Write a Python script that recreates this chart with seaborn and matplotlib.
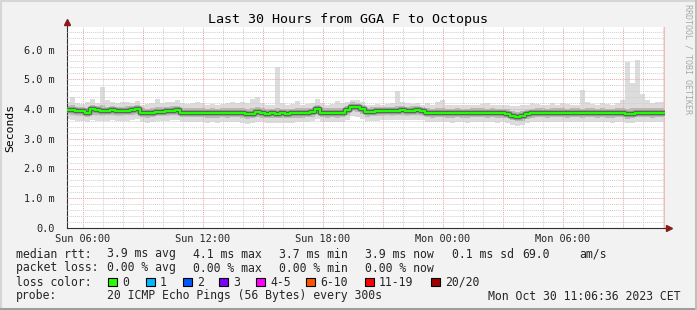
import numpy as np
import matplotlib
matplotlib.use("Agg")
import matplotlib.pyplot as plt
import seaborn as sns
from matplotlib.lines import Line2D
from matplotlib.patches import Rectangle
from matplotlib.ticker import MultipleLocator, FixedLocator, FixedFormatter

# ---------------- data (ms, 15-minute steps from Sun 05:06) ----------------
start_hour = 5.1
step_hours = 0.25

median_ms = [3.97, 3.96, 3.93, 3.92, 3.88, 4.00, 3.95, 3.93, 3.94, 3.96,
             3.93, 3.92, 3.94, 3.96, 4.00, 3.86, 3.85, 3.87, 3.90, 3.91,
             3.93, 3.94, 3.96, 3.88, 3.87, 3.87, 3.88, 3.87, 3.86, 3.86,
             3.85, 3.87, 3.86, 3.88, 3.87, 3.85, 3.82, 3.84, 3.90, 3.86,
             3.84, 3.85, 3.84, 3.85, 3.84, 3.85, 3.86, 3.86, 3.87, 3.90,
             4.00, 3.88, 3.86, 3.87, 3.86, 3.87, 3.95, 4.08, 4.07, 4.00,
             3.90, 3.91, 3.92, 3.93, 3.94, 3.93, 3.94, 3.95, 3.93, 3.94,
             3.95, 3.93, 3.87, 3.86, 3.88, 3.87, 3.86, 3.85, 3.87, 3.86,
             3.85, 3.88, 3.87, 3.88, 3.86, 3.87, 3.85, 3.86, 3.84, 3.78,
             3.74, 3.76, 3.83, 3.86, 3.87, 3.88, 3.86, 3.87, 3.88, 3.87,
             3.86, 3.88, 3.87, 3.86, 3.87, 3.88, 3.86, 3.87, 3.86, 3.85,
             3.87, 3.86, 3.82, 3.84, 3.87, 3.88, 3.87, 3.86, 3.88, 3.87]

max_ms = [4.25, 4.42, 4.20, 4.18, 4.22, 4.33, 4.20, 4.75, 4.30, 4.22,
          4.20, 4.25, 4.22, 4.20, 4.28, 4.15, 4.18, 4.20, 4.33, 4.20,
          4.22, 4.25, 4.30, 4.20, 4.18, 4.20, 4.22, 4.20, 4.15, 4.18,
          4.15, 4.17, 4.20, 4.22, 4.20, 4.25, 4.20, 4.35, 4.40, 4.20,
          4.15, 4.15, 5.42, 4.20, 4.15, 4.18, 4.27, 4.15, 4.18, 4.20,
          4.33, 4.20, 4.15, 4.18, 4.27, 4.20, 4.22, 4.30, 4.30, 4.25,
          4.15, 4.15, 4.18, 4.15, 4.17, 4.20, 4.62, 4.22, 4.20, 4.18,
          4.20, 4.15, 4.20, 4.15, 4.25, 4.30, 4.15, 4.12, 4.15, 4.12,
          4.15, 4.15, 4.12, 4.18, 4.20, 4.15, 4.12, 4.15, 4.13, 4.10,
          4.10, 4.12, 4.15, 4.20, 4.18, 4.15, 4.15, 4.20, 4.15, 4.20,
          4.18, 4.15, 4.15, 4.64, 4.23, 4.18, 4.15, 4.20, 4.18, 4.15,
          4.20, 4.30, 5.58, 4.86, 5.65, 4.50, 4.30, 4.20, 4.22, 4.25]

upper_ms = [4.10, 4.12, 4.08, 4.07, 4.05, 4.12, 4.10, 4.12, 4.08, 4.10,
            4.08, 4.07, 4.10, 4.10, 4.14, 4.02, 4.00, 4.03, 4.06, 4.06,
            4.08, 4.10, 4.11, 4.03, 4.02, 4.03, 4.04, 4.02, 4.01, 4.02,
            4.00, 4.03, 4.02, 4.04, 4.03, 4.02, 4.00, 4.02, 4.06, 4.02,
            4.00, 4.01, 4.05, 4.01, 4.00, 4.01, 4.03, 4.02, 4.02, 4.05,
            4.14, 4.04, 4.02, 4.03, 4.02, 4.03, 4.10, 4.22, 4.20, 4.14,
            4.05, 4.06, 4.07, 4.08, 4.08, 4.08, 4.10, 4.10, 4.08, 4.09,
            4.10, 4.08, 4.02, 4.01, 4.04, 4.02, 4.00, 4.00, 4.02, 4.01,
            4.00, 4.03, 4.02, 4.03, 4.01, 4.02, 4.00, 4.01, 3.99, 3.94,
            3.90, 3.92, 3.98, 4.01, 4.02, 4.03, 4.01, 4.02, 4.03, 4.02,
            4.01, 4.03, 4.02, 4.01, 4.02, 4.03, 4.01, 4.02, 4.01, 4.00,
            4.02, 4.03, 4.00, 4.02, 4.03, 4.04, 4.03, 4.02, 4.04, 4.03]

lower_ms = [3.82, 3.80, 3.78, 3.77, 3.73, 3.80, 3.79, 3.78, 3.79, 3.80,
            3.78, 3.77, 3.79, 3.80, 3.84, 3.72, 3.70, 3.72, 3.75, 3.76,
            3.77, 3.79, 3.80, 3.73, 3.72, 3.72, 3.73, 3.72, 3.71, 3.71,
            3.70, 3.72, 3.71, 3.73, 3.72, 3.70, 3.66, 3.69, 3.74, 3.71,
            3.69, 3.70, 3.69, 3.70, 3.69, 3.70, 3.71, 3.71, 3.72, 3.74,
            3.83, 3.73, 3.71, 3.72, 3.71, 3.72, 3.79, 3.92, 3.90, 3.83,
            3.74, 3.76, 3.77, 3.78, 3.79, 3.78, 3.79, 3.80, 3.78, 3.79,
            3.80, 3.78, 3.72, 3.71, 3.73, 3.72, 3.71, 3.70, 3.72, 3.71,
            3.70, 3.73, 3.72, 3.73, 3.71, 3.72, 3.70, 3.71, 3.69, 3.62,
            3.58, 3.61, 3.68, 3.71, 3.72, 3.73, 3.71, 3.72, 3.73, 3.72,
            3.71, 3.73, 3.72, 3.71, 3.72, 3.73, 3.71, 3.72, 3.71, 3.70,
            3.72, 3.73, 3.67, 3.69, 3.72, 3.73, 3.72, 3.71, 3.73, 3.72]

min_ms = [3.66, 3.62, 3.60, 3.58, 3.57, 3.63, 3.60, 3.58, 3.60, 3.62,
          3.60, 3.58, 3.60, 3.62, 3.66, 3.56, 3.54, 3.56, 3.60, 3.60,
          3.60, 3.62, 3.63, 3.56, 3.55, 3.56, 3.57, 3.55, 3.54, 3.55,
          3.54, 3.56, 3.55, 3.56, 3.55, 3.53, 3.50, 3.53, 3.57, 3.55,
          3.53, 3.54, 3.53, 3.54, 3.53, 3.54, 3.55, 3.55, 3.56, 3.58,
          3.66, 3.57, 3.55, 3.56, 3.55, 3.56, 3.62, 3.76, 3.74, 3.66,
          3.58, 3.60, 3.61, 3.62, 3.63, 3.62, 3.63, 3.64, 3.62, 3.63,
          3.64, 3.62, 3.56, 3.55, 3.57, 3.56, 3.55, 3.54, 3.56, 3.55,
          3.54, 3.57, 3.56, 3.57, 3.55, 3.56, 3.54, 3.55, 3.53, 3.47,
          3.44, 3.46, 3.52, 3.55, 3.56, 3.57, 3.55, 3.56, 3.57, 3.56,
          3.55, 3.57, 3.56, 3.55, 3.56, 3.57, 3.55, 3.56, 3.55, 3.54,
          3.56, 3.57, 3.52, 3.54, 3.56, 3.57, 3.56, 3.55, 3.57, 3.56]

x_tick_hours = [6, 12, 18, 24, 30]
x_tick_labels = ["Sun 06:00", "Sun 12:00", "Sun 18:00", "Mon 00:00", "Mon 06:00"]
y_ticks = [0, 1, 2, 3, 4, 5, 6]
y_tick_labels = ["0.0", "1.0 m", "2.0 m", "3.0 m", "4.0 m", "5.0 m", "6.0 m"]

title = "Last 30 Hours from GGA F to Octopus"
rtt_row = [("median rtt:", 16), ("3.9 ms avg", 107), ("4.1 ms max", 193),
           ("3.7 ms min", 279), ("3.9 ms now", 365), ("0.1 ms sd", 452),
           ("69.0", 522), ("am/s", 579)]
loss_row = [("packet loss:", 16), ("0.00 % avg", 107), ("0.00 % max", 193),
            ("0.00 % min", 279), ("0.00 % now", 365)]
loss_labels = ["0", "1", "2", "3", "4-5", "6-10", "11-19", "20/20"]
loss_colors = ["#26ff00", "#00b8ff", "#0059ff", "#7e00ff", "#ff00ff",
               "#ff5500", "#ff0000", "#a10000"]
loss_box_x = [108, 146, 183, 219, 256, 306, 365, 431]
probe_text = "20 ICMP Echo Pings (56 Bytes) every 300s"
date_text = "Mon Oct 30 11:06:36 2023 CET"

# ---------------- figure ----------------
sns.set_style("white")
plt.rcParams["font.family"] = ["DejaVu Sans Mono", "DejaVu Sans"]

W, H = 697, 310
fig = plt.figure(figsize=(W / 100, H / 100), dpi=100, facecolor="#F2F2F2")


def fx(px):
    return px / W


def fy(py):
    return 1 - py / H


ax_left, ax_right, ax_top, ax_bottom = 66.5, 665.0, 27.0, 228.0
ax = fig.add_axes([fx(ax_left), fy(ax_bottom), (ax_right - ax_left) / W,
                   (ax_bottom - ax_top) / H])
ax.set_facecolor("white")

n = len(median_ms)
t = start_hour + step_hours * np.arange(n + 1)


def ext(a):
    return np.append(np.asarray(a, float), a[-1])


ax.fill_between(t, ext(min_ms), ext(max_ms), step="post", color="#DCDCDC",
                lw=0, zorder=1)
ax.fill_between(t, ext(lower_ms), ext(upper_ms), step="post", color="#B8B8B8",
                lw=0, zorder=1.1)

sns.lineplot(x=t, y=ext(median_ms), drawstyle="steps-post", color="#8C8C8C",
             lw=4.0, ax=ax, zorder=3)
sns.lineplot(x=t, y=ext(median_ms), drawstyle="steps-post", color="#4A4A4A",
             lw=2.6, ax=ax, zorder=3.1)
sns.lineplot(x=t, y=ext(median_ms), drawstyle="steps-post", color="#1EFF00",
             lw=1.7, ax=ax, zorder=3.2)

xmax = start_hour + step_hours * n
ax.set_xlim(xmax - (ax_right - ax_left) / 20.0, xmax)
ax.set_ylim(0, (ax_bottom - ax_top) / 29.75)

ax.xaxis.set_minor_locator(MultipleLocator(1))
ax.yaxis.set_major_locator(FixedLocator(y_ticks))
ax.yaxis.set_major_formatter(FixedFormatter(y_tick_labels))
ax.yaxis.set_minor_locator(MultipleLocator(0.2))
maj = np.arange(6, 36, 3)
ax.set_xticks(maj)
ax.set_xticklabels([x_tick_labels[x_tick_hours.index(h)] if h in x_tick_hours else ""
                    for h in maj])

ax.set_axisbelow(False)
ax.grid(True, which="minor", color="#CFCFCF", lw=0.7, ls=(0, (1, 1)), zorder=2)
ax.grid(True, which="major", color="#E9A3A3", lw=0.7, ls=(0, (1, 1)), zorder=2.05)

ax.tick_params(axis="both", which="major", labelsize=7.4, length=2.5,
               width=0.7, color="#E09090")
ax.tick_params(axis="y", which="major", pad=6)
ax.tick_params(axis="x", which="major", pad=1.5)
ax.tick_params(axis="both", which="minor", length=1.5, width=0.6, color="#B0B0B0")

for s in ["top", "right"]:
    ax.spines[s].set_visible(False)
for s in ["left", "bottom"]:
    ax.spines[s].set_color("#303030")
    ax.spines[s].set_linewidth(0.8)

ax.axvline(xmax, color="#F7B8B8", lw=1.6, zorder=2.5)
ax.set_xlabel("")
ax.set_ylabel("")

# axis extensions & arrows
fig.add_artist(Line2D([fx(ax_left), fx(ax_left)], [fy(ax_top), fy(23)],
                      color="#303030", lw=0.8))
fig.add_artist(Line2D([fx(ax_right), fx(668)], [fy(ax_bottom), fy(ax_bottom)],
                      color="#303030", lw=0.8))
fig.add_artist(Line2D([fx(ax_left)], [fy(22)], marker="^", markersize=5,
                      color="#8B1A1A", lw=0))
fig.add_artist(Line2D([fx(669)], [fy(ax_bottom)], marker=">", markersize=5,
                      color="#8B1A1A", lw=0))

# texts
fig.text(fx(348), fy(19), title, ha="center", va="center", fontsize=9.6,
         color="black")
fig.text(fx(10), fy(128), "Seconds", rotation=90, ha="center", va="center",
         fontsize=8.2, color="black")
fig.text(fx(688), fy(4), "RRDTOOL / TOBI OETIKER", rotation=-90, ha="center",
         va="top", fontsize=6.0, color="#A8A8A8")

fs = 8.3
for txt, x in rtt_row:
    fig.text(fx(x), fy(254), txt, ha="left", va="center", fontsize=fs)
for txt, x in loss_row:
    fig.text(fx(x), fy(268), txt, ha="left", va="center", fontsize=fs)
fig.text(fx(16), fy(282), "loss color:", ha="left", va="center", fontsize=fs)
for lab, col, x in zip(loss_labels, loss_colors, loss_box_x):
    fig.add_artist(Rectangle((fx(x), fy(286)), 8.5 / W, 8.5 / H, facecolor=col,
                             edgecolor="black", lw=0.8,
                             transform=fig.transFigure))
    fig.text(fx(x + 14), fy(282), lab, ha="left", va="center", fontsize=fs)
fig.text(fx(16), fy(296), "probe:", ha="left", va="center", fontsize=fs)
fig.text(fx(107), fy(296), probe_text, ha="left", va="center", fontsize=fs)
fig.text(fx(681), fy(296), date_text, ha="right", va="center", fontsize=fs)

# frame
fig.add_artist(Line2D([0, 1], [fy(0.5), fy(0.5)], color="#D6D6D6", lw=1.5))
fig.add_artist(Line2D([fx(0.5), fx(0.5)], [0, 1], color="#D6D6D6", lw=1.5))
fig.add_artist(Line2D([0, 1], [fy(309), fy(309)], color="#9E9E9E", lw=2.2))
fig.add_artist(Line2D([fx(696), fx(696)], [0, 1], color="#BEBEBE", lw=2.2))

fig.savefig("out.png", dpi=100, facecolor=fig.get_facecolor())
